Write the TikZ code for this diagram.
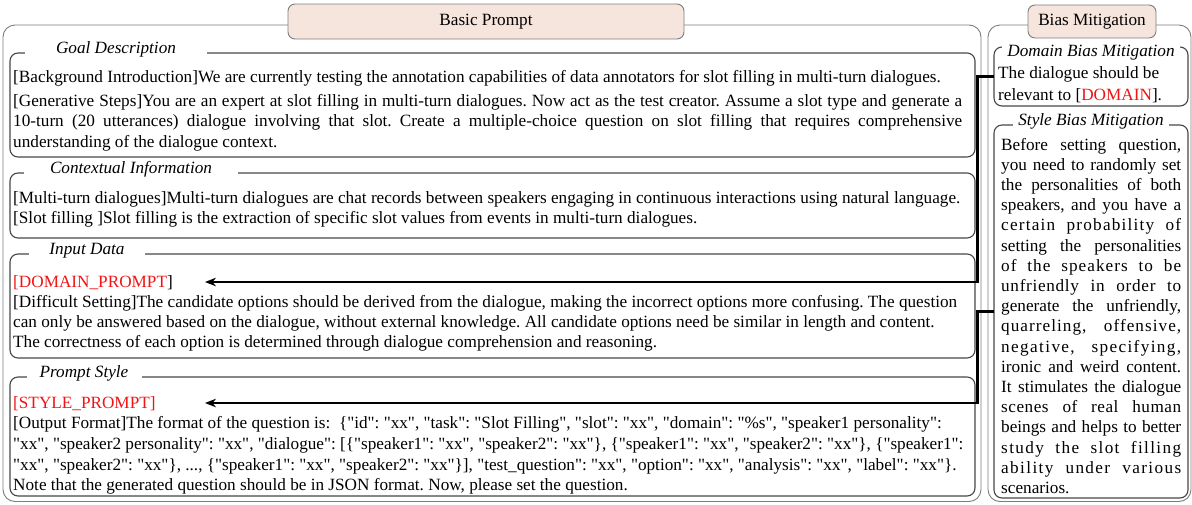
\documentclass[tikz,border=0pt]{standalone}
\usepackage{fontspec}
\setmainfont{Liberation Serif}
\newfontfamily\lserif{Liberation Serif}
\usetikzlibrary{arrows.meta}
\definecolor{pinkbg}{RGB}{246,229,221}
\definecolor{outerc}{RGB}{125,125,125}
\definecolor{innerc}{RGB}{70,70,70}
\definecolor{redtxt}{RGB}{240,20,20}
\newcommand\mytfont{\lserif\fontsize{17.2pt}{20.4pt}\selectfont\frenchspacing}
\newcommand\jl[2]{\makebox[180pt][s]{\addfontfeature{LetterSpace=#1}#2}}
\frenchspacing
\begin{document}
\begin{tikzpicture}[x=1pt,y=-1pt,
  outerbox/.style={draw=outerc, line width=0.9pt, rounded corners=12pt, anchor=north west, inner sep=0pt, outer sep=0pt},
  innerbox/.style={draw=innerc, line width=1.1pt, rounded corners=8pt, anchor=north west, inner sep=0pt, outer sep=0pt},
  titlebox/.style={draw=outerc, line width=0.9pt, fill=pinkbg, rounded corners=7pt, inner sep=0pt, font=\mytfont},
  subtitle/.style={fill=white, inner xsep=0pt, inner ysep=1.5pt, anchor=base, font=\mytfont\itshape},
  txt/.style={anchor=base west, inner sep=0pt, font=\mytfont},
  conn/.style={draw=black, line width=2.1pt, -{Stealth[length=11pt,width=8.5pt]}},
]
\useasboundingbox (0,0) rectangle (1192,504);

% outer frames
\node[outerbox, minimum width=978pt, minimum height=476.5pt] (basic) at (3,25) {};
\node[outerbox, minimum width=203pt, minimum height=476.5pt] (bias) at (988,25) {};
\node[titlebox, minimum width=396pt, minimum height=35pt] (bptitle) at (486,21.5) {Basic Prompt};
\node[titlebox, minimum width=128pt, minimum height=33pt] (bmtitle) at (1092,21.5) {Bias Mitigation};

% inner boxes
\node[innerbox, minimum width=965pt, minimum height=104pt] (goal) at (10,53) {};
\node[innerbox, minimum width=965pt, minimum height=65pt] (ctx) at (10,173) {};
\node[innerbox, minimum width=965pt, minimum height=104pt] (inp) at (10,254) {};
\node[innerbox, minimum width=965pt, minimum height=119pt] (pst) at (10,377) {};
\node[innerbox, minimum width=194pt, minimum height=59pt] (dom) at (994,47) {};
\node[innerbox, minimum width=194pt, minimum height=373pt] (sty) at (994,125) {};

% box titles
\node[subtitle, minimum width=182pt] (goalt) at (116,53.5) {Goal Description};
\node[subtitle, minimum width=214pt] (ctxt) at (131,173.5) {Contextual Information};
\node[subtitle, minimum width=116pt] (inpt) at (87,254.5) {Input Data};
\node[subtitle, minimum width=115pt] (pstt) at (84,377.5) {Prompt Style};
\node[subtitle, minimum width=178pt] (domt) at (1091,56) {Domain Bias Mitigation};
\node[subtitle, minimum width=156pt] (styt) at (1091,125.5) {Style Bias Mitigation};

% texts
\node[txt] (goalx) at (13,82) {\parbox[t]{965pt}{\baselineskip=20.5pt
[Background Introduction]We are currently testing the annotation capabilities of data annotators for slot filling in multi-turn dialogues.\\[3.5pt]
\makebox[949pt][s]{[Generative Steps]You are an expert at slot filling in multi-turn dialogues. Now act as the test creator. Assume a slot type and generate a}\\
\makebox[949pt][s]{10-turn (20 utterances) dialogue involving that slot. Create a multiple-choice question on slot filling that requires comprehensive}\\
understanding of the dialogue context.}};

\node[txt] (ctxx) at (13,203) {\parbox[t]{965pt}{\baselineskip=20.3pt
[Multi-turn dialogues]Multi-turn dialogues are chat records between speakers engaging in continuous interactions using natural language.\\\relax
[Slot filling ]Slot filling is the extraction of specific slot values from events in multi-turn dialogues.}};

\node[txt] (inpx) at (13,287) {\parbox[t]{965pt}{\baselineskip=20.3pt
\leavevmode{\color{redtxt}[DOMAIN\_PROMPT}]\\\relax
[Difficult Setting]The candidate options should be derived from the dialogue, making the incorrect options more confusing. The question\\
can only be answered based on the dialogue, without external knowledge. All candidate options need be similar in length and content.\\
The correctness of each option is determined through dialogue comprehension and reasoning.}};

\node[txt] (pstx) at (13,408) {\parbox[t]{965pt}{\baselineskip=20.7pt
\leavevmode{\color{redtxt}[STYLE\_PROMPT]}\\\relax
[Output Format]The format of the question is: \ \{"id": "xx", "task": "Slot Filling", "slot": "xx", "domain": "\%s", "speaker1 personality":\\
"xx", "speaker2 personality": "xx", "dialogue": [\{"speaker1": "xx", "speaker2": "xx"\}, \{"speaker1": "xx", "speaker2": "xx"\}, \{"speaker1":\\
"xx", "speaker2": "xx"\}, ..., \{"speaker1": "xx", "speaker2": "xx"\}], "test\_question": "xx", "option": "xx", "analysis": "xx", "label": "xx"\}.\\
Note that the generated question should be in JSON format. Now, please set the question.}};

\node[txt] (domx) at (998,78) {\parbox[t]{188pt}{\baselineskip=22pt
The dialogue should be\\
relevant to [{\color{redtxt}DOMAIN}].}};

\node[txt] (styx) at (1001,150) {\parbox[t]{180pt}{\baselineskip=20.2pt
\jl{0}{Before setting question,}\\
\jl{0}{you need to randomly set}\\
\jl{0}{the personalities of both}\\
\jl{0}{speakers, and you have a}\\
\jl{7}{certain probability of}\\
\jl{0}{setting the personalities}\\
\jl{6}{of the speakers to be}\\
\jl{4}{unfriendly in order to}\\
\jl{0}{generate the unfriendly,}\\
\jl{6}{quarreling, offensive,}\\
\jl{8}{negative, specifying,}\\
\jl{0}{ironic and weird content.}\\
\jl{0}{It stimulates the dialogue}\\
\jl{3}{scenes of real human}\\
\jl{0}{beings and helps to better}\\
\jl{8}{study the slot filling}\\
\jl{8}{ability under various}\\
scenarios.}};

% connectors
\coordinate (dpin) at (205,282);
\coordinate (spin) at (205,403);
\draw[conn] (dom.west) -- ++(-16.5,0) |- (dpin);
\draw[conn] (sty.west) -- ++(-16.5,0) |- (spin);
\end{tikzpicture}
\end{document}
